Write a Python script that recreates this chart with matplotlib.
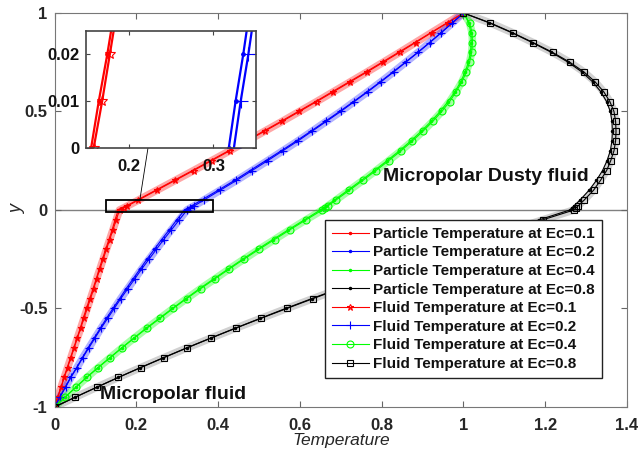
import matplotlib
matplotlib.use("Agg")
import matplotlib.pyplot as plt
from matplotlib.patches import Rectangle
from matplotlib.ticker import FormatStrFormatter

plt.rcParams['font.family'] = ['Liberation Sans', 'DejaVu Sans']
plt.rcParams['font.weight'] = 'bold'

# y positions (lower region -1..0, upper region 0..1)
y_lower = [-1, -0.95, -0.9, -0.85, -0.8, -0.75, -0.7, -0.65, -0.6, -0.55, -0.5,
           -0.45, -0.4, -0.35, -0.3, -0.25, -0.2, -0.15, -0.1, -0.05, 0]
y_upper = [0.01, 0.02, 0.05, 0.1, 0.15, 0.2, 0.25, 0.3, 0.35, 0.4, 0.45, 0.5,
           0.55, 0.6, 0.65, 0.7, 0.75, 0.8, 0.85, 0.9, 0.95, 1.0]
y = y_lower + y_upper

# Particle temperature
red_particle = [0, 0.008, 0.016, 0.023, 0.031, 0.039, 0.047, 0.055, 0.063, 0.070, 0.078,
                0.086, 0.094, 0.102, 0.109, 0.117, 0.125, 0.133, 0.141, 0.148, 0.156,
                0.165, 0.175, 0.202, 0.247, 0.292, 0.337, 0.381, 0.425, 0.468, 0.511, 0.554,
                0.596, 0.638, 0.679, 0.720, 0.761, 0.801, 0.841, 0.881, 0.920, 0.960, 1.0]
blue_particle = [0, 0.013, 0.026, 0.039, 0.054, 0.068, 0.082, 0.097, 0.112, 0.127, 0.143,
                 0.159, 0.175, 0.192, 0.209, 0.226, 0.244, 0.262, 0.281, 0.299, 0.318,
                 0.326, 0.335, 0.359, 0.400, 0.440, 0.478, 0.516, 0.554, 0.591, 0.627, 0.662,
                 0.697, 0.731, 0.764, 0.796, 0.827, 0.858, 0.888, 0.917, 0.945, 0.973, 1.0]
green_particle = [0, 0.026, 0.052, 0.078, 0.106, 0.135, 0.164, 0.194, 0.224, 0.256, 0.288,
                  0.321, 0.354, 0.389, 0.424, 0.460, 0.496, 0.534, 0.572, 0.611, 0.650,
                  0.658, 0.664, 0.684, 0.717, 0.750, 0.782, 0.813, 0.843, 0.871, 0.897, 0.921,
                  0.943, 0.962, 0.979, 0.993, 1.004, 1.012, 1.017, 1.019, 1.018, 1.013, 1.0]
black_particle = [0, 0.051, 0.103, 0.156, 0.210, 0.266, 0.323, 0.382, 0.442, 0.503, 0.565,
                  0.629, 0.694, 0.760, 0.827, 0.896, 0.966, 1.038, 1.111, 1.185, 1.26,
                  1.265, 1.27, 1.285, 1.307, 1.325, 1.34, 1.351, 1.359, 1.363, 1.364, 1.363,
                  1.359, 1.35, 1.336, 1.316, 1.29, 1.256, 1.215, 1.168, 1.118, 1.063, 1.0]

# Fluid temperature
red_fluid = [0, 0.008, 0.016, 0.024, 0.032, 0.040, 0.048, 0.056, 0.064, 0.072, 0.080,
             0.088, 0.096, 0.103, 0.111, 0.119, 0.127, 0.135, 0.143, 0.151, 0.159,
             0.169, 0.178, 0.205, 0.250, 0.295, 0.340, 0.384, 0.428, 0.471, 0.514, 0.557,
             0.599, 0.641, 0.682, 0.723, 0.764, 0.804, 0.844, 0.883, 0.922, 0.961, 1.0]
blue_fluid = [0, 0.013, 0.027, 0.040, 0.055, 0.069, 0.084, 0.099, 0.114, 0.130, 0.146,
              0.162, 0.179, 0.196, 0.213, 0.231, 0.249, 0.267, 0.286, 0.305, 0.324,
              0.332, 0.341, 0.365, 0.405, 0.445, 0.483, 0.521, 0.558, 0.595, 0.630, 0.665,
              0.700, 0.733, 0.766, 0.798, 0.829, 0.859, 0.889, 0.918, 0.946, 0.973, 1.0]
green_fluid = [0, 0.026, 0.052, 0.079, 0.107, 0.136, 0.165, 0.195, 0.226, 0.258, 0.290,
               0.323, 0.357, 0.392, 0.427, 0.463, 0.500, 0.538, 0.576, 0.615, 0.655,
               0.662, 0.668, 0.688, 0.721, 0.754, 0.786, 0.817, 0.847, 0.875, 0.901, 0.925,
               0.947, 0.966, 0.982, 0.996, 1.007, 1.015, 1.020, 1.022, 1.021, 1.015, 1.0]
black_fluid = [0, 0.051, 0.103, 0.156, 0.211, 0.267, 0.324, 0.383, 0.443, 0.505, 0.568,
               0.632, 0.697, 0.764, 0.832, 0.902, 0.973, 1.045, 1.119, 1.194, 1.27,
               1.275, 1.28, 1.295, 1.318, 1.335, 1.35, 1.36, 1.368, 1.372, 1.373, 1.372,
               1.368, 1.358, 1.343, 1.322, 1.295, 1.26, 1.218, 1.17, 1.12, 1.065, 1.0]

ec_labels = ['0.1', '0.2', '0.4', '0.8']
colors = ['#ff0000', '#0000ff', '#00ff00', '#000000']
particles = [red_particle, blue_particle, green_particle, black_particle]
fluids = [red_fluid, blue_fluid, green_fluid, black_fluid]
fluid_markers = ['*', '+', 'o', 's']
fluid_ms = [5, 6, 5, 4.5]
band_alpha = [0.35, 0.3, 0.35, 0.18]

fig = plt.figure(figsize=(6.39, 4.55), dpi=100)
ax = fig.add_axes([0.0853, 0.1055, 0.896, 0.866])


def draw_curves(a, lw, scale=1.0, band=True):
    # dense-marker look of the original: a soft wide band under each fluid curve
    if band:
        for xs, c, al in zip(fluids, colors, band_alpha):
            a.plot(xs, y, color=c, lw=5.5, alpha=al, solid_capstyle='round')
    for xs, c, ec in zip(particles, colors, ec_labels):
        a.plot(xs, y, color=c, lw=lw, marker='.', ms=3 * scale,
               label='Particle Temperature at Ec=' + ec)
    for xs, c, m, ms, ec in zip(fluids, colors, fluid_markers, fluid_ms, ec_labels):
        a.plot(xs, y, color=c, lw=lw, marker=m, ms=ms * scale, mfc='none', mew=0.8,
               label='Fluid Temperature at Ec=' + ec)


draw_curves(ax, 0.8)
ax.axhline(0, color='#808080', lw=1, zorder=0)

ax.set_xlim(0, 1.4)
ax.set_ylim(-1, 1)
ax.set_xticks([0, 0.2, 0.4, 0.6, 0.8, 1.0, 1.2, 1.4])
ax.set_yticks([-1, -0.5, 0, 0.5, 1])
ax.xaxis.set_major_formatter(FormatStrFormatter('%g'))
ax.yaxis.set_major_formatter(FormatStrFormatter('%g'))
ax.tick_params(direction='in', top=True, right=True, length=4, color='#666666',
               labelsize=12, labelcolor='#262626')
ax.tick_params(axis='x', pad=8)
ax.tick_params(axis='y', pad=5)
for s in ax.spines.values():
    s.set_color('#777777')

ax.set_xlabel('Temperature', fontsize=12.5, style='italic', color='#262626')
ax.xaxis.set_label_coords(0.5, -0.066)
ax.set_ylabel('y', fontsize=13, style='italic', color='#262626')
ax.yaxis.set_label_coords(-0.05, 0.5)

ax.text(0.803, 0.168, 'Micropolar Dusty fluid', fontsize=14, ha='left', va='center', color='#111111')
ax.text(0.111, -0.939, 'Micropolar fluid', fontsize=14, ha='left', va='center', color='#111111')

# zoom box and connector
ax.add_patch(Rectangle((0.126, -0.009), 0.261, 0.06, fill=False, ec='black', lw=1.3, zorder=5))
ax.plot([0.209, 0.2286], [0.056, 0.315], color='black', lw=0.6, zorder=5)

leg = ax.legend(loc='upper left', bbox_to_anchor=(0.4725, 0.4746), borderaxespad=0,
                fontsize=11, labelspacing=0.3, handlelength=2.4, handletextpad=0.3,
                borderpad=0.45, fancybox=False, framealpha=1, edgecolor='#222222')
leg.get_frame().set_linewidth(1.0)
for t in leg.get_texts():
    t.set_color('#111111')

# inset
axin = fig.add_axes([0.1346, 0.6747, 0.266, 0.257])
draw_curves(axin, 1.6, scale=1.6, band=False)
axin.set_xlim(0.15, 0.35)
axin.set_ylim(0, 0.025)
axin.set_xticks([0.2, 0.3])
axin.set_yticks([0, 0.01, 0.02])
axin.xaxis.set_major_formatter(FormatStrFormatter('%g'))
axin.yaxis.set_major_formatter(FormatStrFormatter('%g'))
axin.tick_params(direction='in', top=True, right=True, length=3, color='#444444',
                 labelsize=12, labelcolor='#111111')
axin.tick_params(axis='x', pad=8)
axin.tick_params(axis='y', pad=5)
for s in axin.spines.values():
    s.set_color('#444444')
    s.set_linewidth(1.2)

fig.savefig('out.png', dpi=100)
